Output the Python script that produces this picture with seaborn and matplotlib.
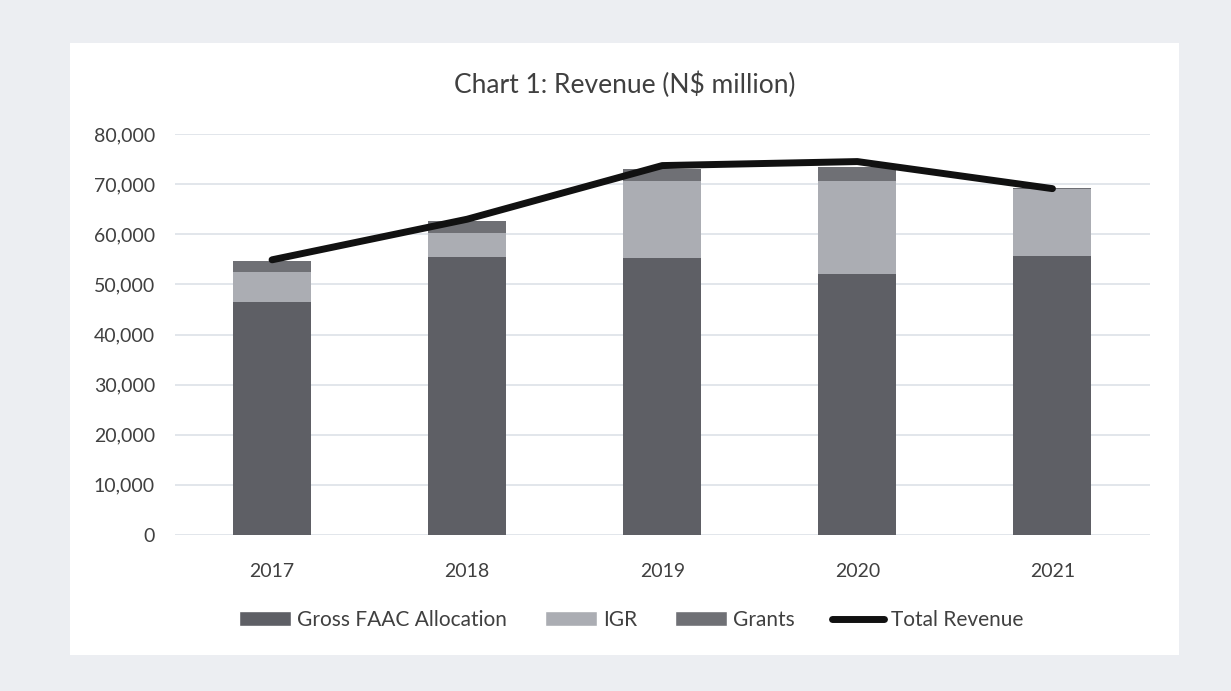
import matplotlib
matplotlib.use("Agg")
import matplotlib.pyplot as plt
from matplotlib.patches import Rectangle, Patch
from matplotlib.lines import Line2D
import seaborn as sns
import pandas as pd

# Revenue components, N$ million
years = ["2017", "2018", "2019", "2020", "2021"]
gross_faac = [46400, 55500, 55200, 52100, 55700]
igr = [6100, 4700, 15400, 18600, 13300]
grants = [2100, 2400, 2500, 2800, 200]
total_revenue = [54900, 63000, 73700, 74500, 69100]

yticks = [0, 10000, 20000, 30000, 40000, 50000, 60000, 70000, 80000]

c_faac = "#5e5f65"
c_igr = "#abadb3"
c_grants = "#6f7075"
c_text = "#404040"
c_grid = "#dde1e7"

sns.set_theme(style="white")
plt.rcParams["font.family"] = ["Lato", "DejaVu Sans"]

fig = plt.figure(figsize=(12.31, 6.91), dpi=100)
fig.patch.set_facecolor("#eceef2")
fig.patches.append(Rectangle((70 / 1231, 1 - 655 / 691), (1179 - 70) / 1231, (655 - 43) / 691,
                             transform=fig.transFigure, facecolor="white", edgecolor="none",
                             zorder=-10))

ax = fig.add_axes([174.5 / 1231, 1 - 535 / 691, 975.5 / 1231, 401 / 691])
ax.set_zorder(1)
ax.set_facecolor("none")

df = pd.DataFrame({"year": years, "faac": gross_faac, "igr": igr, "grants": grants,
                   "total": total_revenue})
df["base_grants"] = df["faac"] + df["igr"]

w = 0.4
bar_kw = dict(width=w, saturation=1, ax=ax, zorder=2, linewidth=0, edgecolor="none")
sns.barplot(data=df, x="year", y="faac", color=c_faac, **bar_kw)
sns.barplot(data=df, x="year", y="igr", bottom=df["faac"], color=c_igr, **bar_kw)
sns.barplot(data=df, x="year", y="grants", bottom=df["base_grants"], color=c_grants, **bar_kw)
sns.lineplot(x=list(range(len(years))), y=df["total"], color="#111111", linewidth=5, ax=ax,
             zorder=3, solid_capstyle="round", solid_joinstyle="round")

ax.set_xlim(-0.5, len(years) - 0.5)
ax.set_ylim(0, 80000)
ax.set_yticks(yticks)
ax.set_yticklabels([f"{v:,}" for v in yticks])
ax.yaxis.grid(True, color=c_grid, linewidth=1.2, zorder=0)
ax.set_axisbelow(True)
for s in ax.spines.values():
    s.set_visible(False)
ax.tick_params(axis="both", length=0, labelsize=14, colors=c_text)
ax.tick_params(axis="y", pad=14)
ax.tick_params(axis="x", pad=20)
ax.set_xlabel("")
ax.set_ylabel("")

fig.text(624.5 / 1231, 1 - 85 / 691, "Chart 1: Revenue (N$ million)", ha="center", va="center",
         fontsize=19, color=c_text)

handles = [Patch(facecolor=c_faac, label="Gross FAAC Allocation"),
           Patch(facecolor=c_igr, label="IGR"),
           Patch(facecolor=c_grants, label="Grants"),
           Line2D([0], [0], color="#111111", linewidth=5, label="Total Revenue")]
fig.legend(handles=handles, loc="center", bbox_to_anchor=(631 / 1231, 1 - 620 / 691), ncol=4,
           frameon=False, fontsize=15, labelcolor=c_text, handlelength=2.5, handleheight=0.7,
           handletextpad=0.3, columnspacing=1.8)

fig.savefig("out.png", dpi=100, facecolor=fig.get_facecolor())
